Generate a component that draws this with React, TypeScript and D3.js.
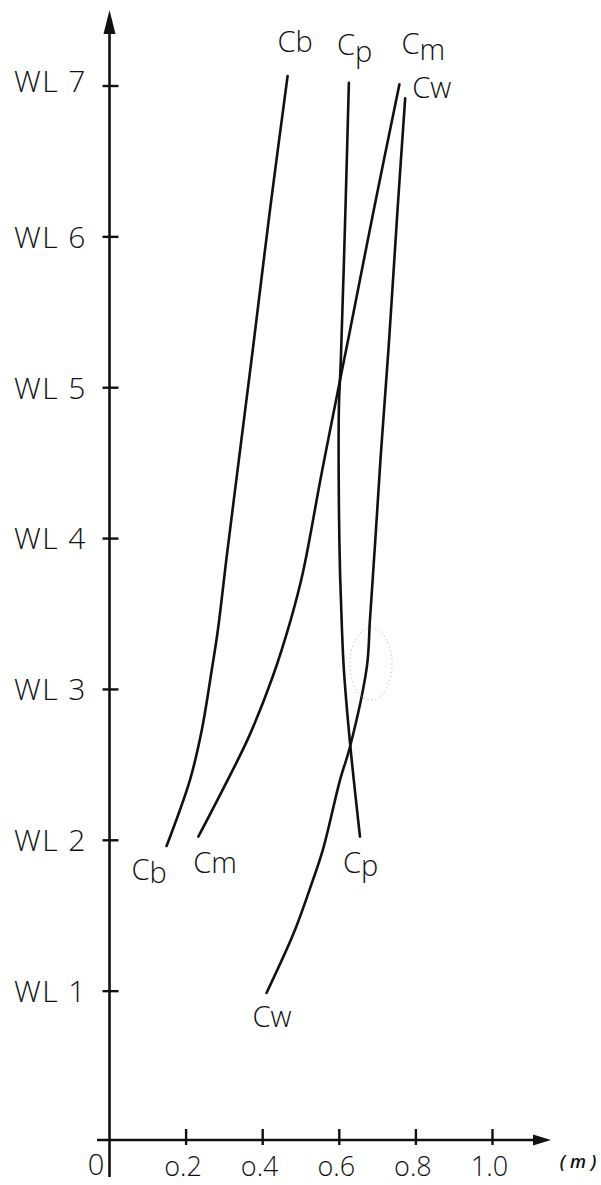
import React from "react";
import * as d3 from "d3";

// ---- data (value in m, waterline level) ----
const xTickValues = [0.2, 0.4, 0.6, 0.8, 1.0];
const xTickLabels = ["o.2", "o.4", "o.6", "o.8", "1.0"];
const wlTickValues = [1, 2, 3, 4, 5, 6, 7];
const wlTickLabels = ["WL 1", "WL 2", "WL 3", "WL 4", "WL 5", "WL 6", "WL 7"];

const cbWL = [1.962, 2.399, 2.731, 3.129, 3.394, 3.88, 4.587, 5.25, 6.178, 7.066];
const cbVal = [0.149, 0.21, 0.241, 0.267, 0.283, 0.306, 0.341, 0.374, 0.419, 0.465];

const cmWL = [2.024, 2.357, 2.687, 3.084, 3.46, 3.775, 4.435, 5.051, 5.316, 6.178, 7.011];
const cmVal = [0.232, 0.3, 0.364, 0.426, 0.473, 0.505, 0.554, 0.602, 0.623, 0.69, 0.757];

const cpWL = [2.024, 2.645, 3.129, 3.394, 3.772, 4.211, 4.874, 5.184, 6.178, 7.022];
const cpVal = [0.654, 0.628, 0.612, 0.607, 0.602, 0.599, 0.599, 0.604, 0.616, 0.625];

const cwWL = [0.988, 1.385, 1.67, 1.936, 2.4, 2.62, 3.151, 3.46, 3.99, 4.543, 5.316, 6.178, 6.918];
const cwVal = [0.41, 0.481, 0.522, 0.557, 0.602, 0.628, 0.672, 0.68, 0.694, 0.708, 0.73, 0.752, 0.772];

const curveNames = ["Cb", "Cm", "Cp", "Cw"];

const W = 601;
const H = 1185;

export default function App() {
  const x = d3.scaleLinear().domain([0, 1]).range([109.5, 492.5]);
  const y = d3.scaleLinear().domain([0, 7]).range([1142, 86]);

  const series = [
    { name: curveNames[0], wl: cbWL, v: cbVal },
    { name: curveNames[1], wl: cmWL, v: cmVal },
    { name: curveNames[2], wl: cpWL, v: cpVal },
    { name: curveNames[3], wl: cwWL, v: cwVal },
  ];

  const line = d3
    .line<[number, number]>()
    .x((d) => x(d[0]))
    .y((d) => y(d[1]))
    .curve(d3.curveCatmullRom.alpha(0.5));

  const font = "'Open Sans', 'DejaVu Sans', sans-serif";
  const ax0 = x(0);
  const axY = 1140;

  // label offsets relative to curve endpoints (style/position only)
  const topOff: Record<string, [number, number, number]> = {
    Cb: [-10, -24, 0],
    Cp: [-12, -28, 7],
    Cm: [2, -30, 6],
    Cw: [7, 0, 0],
  };
  const botOff: Record<string, [number, number, number]> = {
    Cb: [-35, 34, 3],
    Cm: [-5, 36, 0],
    Cp: [-17, 36, 3],
    Cw: [-14, 34, 0],
  };

  const lbl = (name: string, px: number, py: number, dy: number, key: string) => (
    <text key={key} x={px} y={py} fontSize={29} fontFamily={font} fontWeight={300} fill="#111">
      {name[0]}
      <tspan dy={dy}>{name.slice(1)}</tspan>
    </text>
  );

  return (
    <svg
      width={W}
      height={H}
      viewBox={`0 0 ${W} ${H}`}
      style={{ position: "absolute", left: 0, top: 0, background: "#fff" }}
    >
      <rect width={W} height={H} fill="#fff" />
      {/* y axis */}
      <line x1={ax0} y1={28} x2={ax0} y2={1177} stroke="#111" strokeWidth={2.6} />
      <path d={`M${ax0},10 L${ax0 - 6},34 L${ax0 + 6},34 Z`} fill="#111" />
      {/* x axis */}
      <line x1={97} y1={axY} x2={538} y2={axY} stroke="#111" strokeWidth={2.6} />
      <path d={`M551,${axY} L533,${axY - 5.5} L533,${axY + 5.5} Z`} fill="#111" />

      {/* y ticks */}
      {wlTickValues.map((v, i) => (
        <g key={"yt" + v}>
          <line x1={ax0 - 7} x2={ax0 + 9} y1={y(v)} y2={y(v)} stroke="#111" strokeWidth={2.4} />
          <text
            x={87}
            y={y(v)}
            dy={i === 6 ? "0.2em" : "0.36em"}
            textAnchor="end"
            fontSize={30}
            letterSpacing={1.5}
            fontFamily={font}
            fontWeight={300}
            fill="#111"
          >
            {wlTickLabels[i]}
          </text>
        </g>
      ))}

      {/* x ticks */}
      {xTickValues.map((v, i) => (
        <g key={"xt" + v}>
          <line x1={x(v)} x2={x(v)} y1={axY - 11} y2={axY + 5} stroke="#111" strokeWidth={2.4} />
          <text
            x={x(v) - 3}
            y={1176}
            textAnchor="middle"
            fontSize={27}
            fontFamily={font}
            fontWeight={300}
            fill="#111"
          >
            {xTickLabels[i]}
          </text>
        </g>
      ))}
      <text x={96} y={1175} textAnchor="middle" fontSize={29} fontFamily={font} fontWeight={300} fill="#111">
        0
      </text>
      <text x={578} y={1168} textAnchor="middle" fontSize={18} fontStyle="italic" fontWeight={600} fontFamily={font} fill="#111">
        ( m )
      </text>

      {/* curves */}
      {series.map((s) => {
        const pts: [number, number][] = s.v.map((v, i) => [v, s.wl[i]]);
        return (
          <path key={s.name} d={line(pts) || ""} fill="none" stroke="#111" strokeWidth={2.6} strokeLinecap="round" />
        );
      })}

      {/* curve labels */}
      {series.map((s) => {
        const n = s.v.length - 1;
        const t = topOff[s.name];
        const b = botOff[s.name];
        return (
          <g key={"l" + s.name}>
            {lbl(s.name, x(s.v[n]) + t[0], y(s.wl[n]) + t[1], t[2], "t" + s.name)}
            {lbl(s.name, x(s.v[0]) + b[0], y(s.wl[0]) + b[1], b[2], "b" + s.name)}
          </g>
        );
      })}

      {/* faint pencil mark */}
      <ellipse cx={371} cy={664} rx={21} ry={36} fill="none" stroke="#aaa" strokeWidth={1} strokeDasharray="1 3" />
    </svg>
  );
}
